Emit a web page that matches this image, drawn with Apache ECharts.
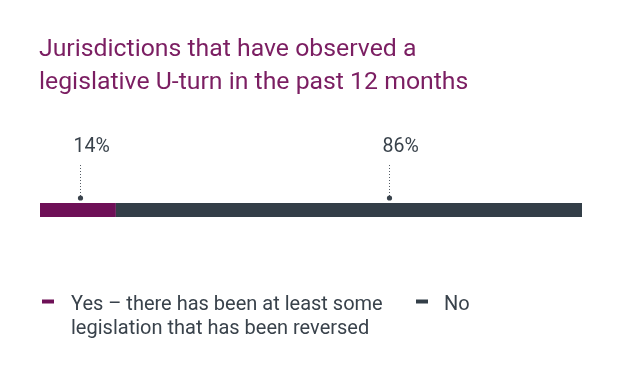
<!DOCTYPE html>
<html><head><meta charset="utf-8">
<script src="https://cdn.jsdelivr.net/npm/echarts@6/dist/echarts.min.js"></script>
<style>html,body{margin:0;padding:0;background:#fff}#c{width:624px;height:383px}</style>
</head><body><div id="c"></div>
<script>
const categories = ['Jurisdictions'];
const seriesNames = ['Yes – there has been at least some\nlegislation that has been reversed', 'No'];
const yesValues = [14];
const noValues = [86];
const valueLabels = ['14%', '86%'];
const labelAnchor = [7.4, 64.4];

const purple = '#6e1057';
const dark = '#333e48';
const textCol = '#39424b';
const font = 'Roboto';

const chart = echarts.init(document.getElementById('c'));
chart.setOption({
  animation: false,
  backgroundColor: '#fff',
  title: {
    text: 'Jurisdictions that have observed a\nlegislative U-turn in the past 12 months',
    left: 39, top: 33, padding: 0,
    textStyle: { color: '#7b1e62', fontSize: 24.8, fontWeight: 'normal', fontFamily: font, lineHeight: 33 }
  },
  legend: [
    {
      data: [seriesNames[0]], left: 42, top: 293, padding: 0, itemWidth: 12, itemHeight: 35,
      icon: 'path://M0,0L12,0L12,4L0,4Z M0,35L0.01,35',
      textStyle: { color: textCol, fontSize: 20, fontFamily: font, lineHeight: 24, padding: [0, 0, 0, 12] }
    },
    {
      data: [seriesNames[1]], left: 416, top: 293, padding: 0, itemWidth: 12, itemHeight: 11,
      icon: 'path://M0,0L12,0L12,4L0,4Z M0,11L0.01,11',
      textStyle: { color: textCol, fontSize: 20, fontFamily: font, lineHeight: 24, padding: [0, 0, 0, 11] }
    }
  ],
  grid: { left: 40, right: 42, top: 203, height: 14 },
  xAxis: { type: 'value', min: 0, max: 100, show: false },
  yAxis: { type: 'category', data: categories, show: false },
  series: [
    { name: seriesNames[0], type: 'bar', stack: 't', data: yesValues, barWidth: 14, itemStyle: { color: purple } },
    { name: seriesNames[1], type: 'bar', stack: 't', data: noValues, barWidth: 14, itemStyle: { color: dark } }
  ]
});

const elements = [];
labelAnchor.forEach((v, i) => {
  const p = chart.convertToPixel({ gridIndex: 0 }, [v, categories[0]]);
  const x = Math.round(p[0]) + 0.5;
  const yDot = p[1] - 12;
  elements.push({ type: 'line', shape: { x1: x, y1: 165, x2: x, y2: yDot - 2 }, style: { stroke: '#555d66', lineWidth: 1, lineDash: [1, 2] } });
  elements.push({ type: 'circle', shape: { cx: x, cy: yDot, r: 2.6 }, style: { fill: '#3a434c' } });
  elements.push({ type: 'text', x: x - 7, y: 147.5, style: { text: valueLabels[i], fill: textCol, fontSize: 19.5, fontFamily: font, verticalAlign: 'middle', align: 'left' } });
});
chart.setOption({ graphic: elements });
</script></body></html>
